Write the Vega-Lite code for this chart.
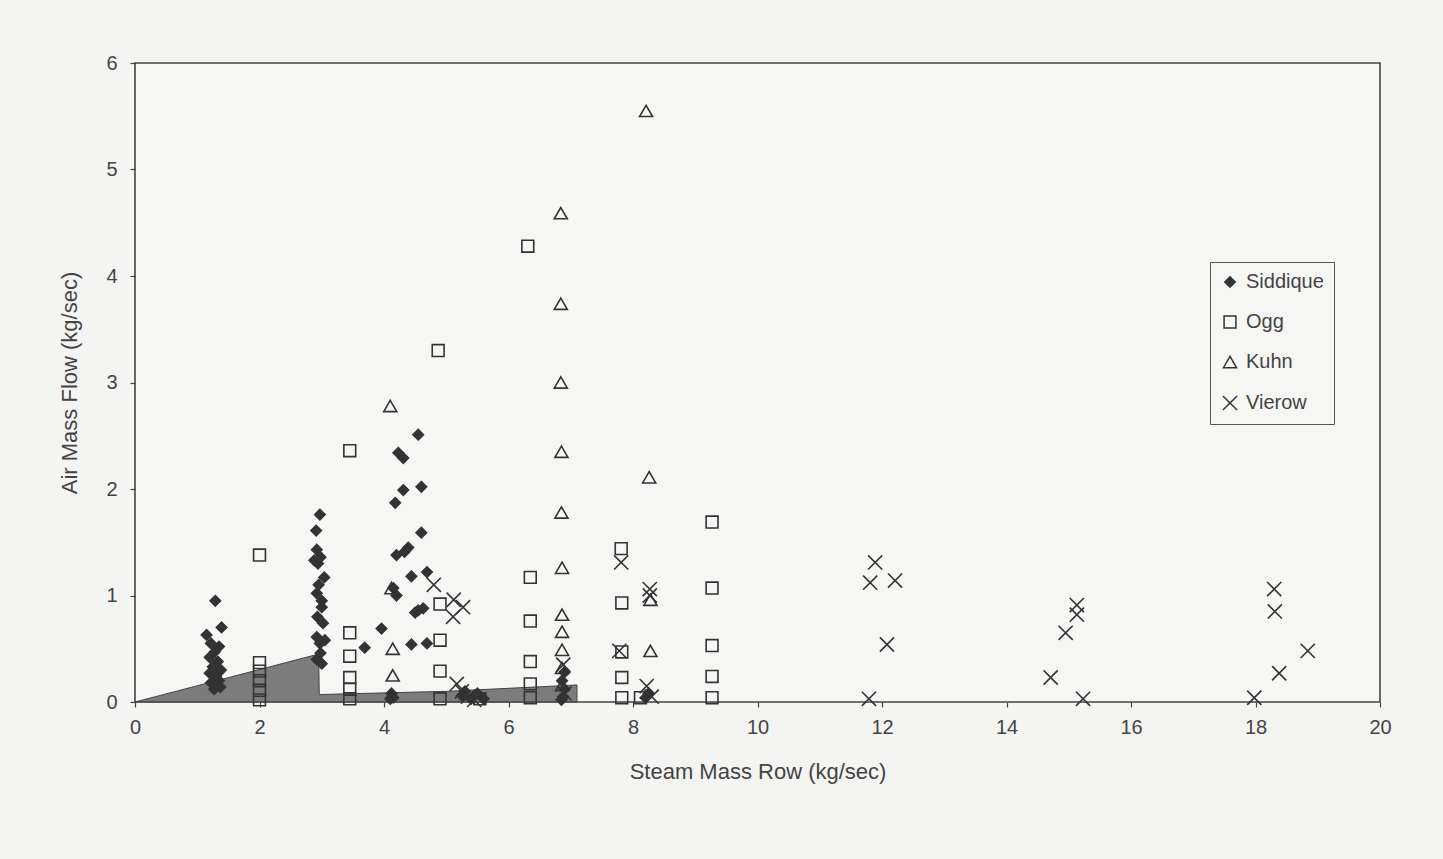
{
  "$schema": "https://vega.github.io/schema/vega-lite/v6.json",
  "width": 1245,
  "height": 639,
  "autosize": "none",
  "padding": {"left": 135, "top": 63, "right": 63, "bottom": 157},
  "background": "#f4f4f2",
  "config": {
    "view": {"stroke": "#444444", "strokeWidth": 1.6, "fill": "#f6f6f4"},
    "font": "Liberation Sans",
    "axis": {
      "grid": false,
      "domain": false,
      "tickColor": "#444444",
      "tickSize": 5,
      "tickWidth": 1.2,
      "labelFlush": false,
      "format": "d",
      "labelFont": "Liberation Sans",
      "labelFontSize": 20,
      "labelColor": "#444444",
      "titleFont": "Liberation Sans",
      "titleFontSize": 22,
      "titleFontWeight": "normal",
      "titleColor": "#444444"
    },
    "legend": {
      "labelFont": "Liberation Sans",
      "labelFontSize": 20,
      "labelColor": "#444444"
    }
  },
  "datasets": {
    "shade": [
      {"steam": 0, "air": 0},
      {"steam": 2.95, "air": 0.45},
      {"steam": 2.96, "air": 0.07},
      {"steam": 5.0, "air": 0.1},
      {"steam": 7.1, "air": 0.16}
    ],
    "pts": [
      {"series": "Siddique", "steam": 1.29, "air": 0.95},
      {"series": "Siddique", "steam": 1.15, "air": 0.63},
      {"series": "Siddique", "steam": 1.39, "air": 0.70},
      {"series": "Siddique", "steam": 1.22, "air": 0.55},
      {"series": "Siddique", "steam": 1.35, "air": 0.52},
      {"series": "Siddique", "steam": 1.28, "air": 0.47},
      {"series": "Siddique", "steam": 1.20, "air": 0.42},
      {"series": "Siddique", "steam": 1.33, "air": 0.38},
      {"series": "Siddique", "steam": 1.25, "air": 0.33},
      {"series": "Siddique", "steam": 1.38, "air": 0.30},
      {"series": "Siddique", "steam": 1.20, "air": 0.27},
      {"series": "Siddique", "steam": 1.30, "air": 0.24},
      {"series": "Siddique", "steam": 1.35, "air": 0.20},
      {"series": "Siddique", "steam": 1.22, "air": 0.18},
      {"series": "Siddique", "steam": 1.30, "air": 0.15},
      {"series": "Siddique", "steam": 1.27, "air": 0.12},
      {"series": "Siddique", "steam": 1.37, "air": 0.14},
      {"series": "Siddique", "steam": 2.97, "air": 1.76},
      {"series": "Siddique", "steam": 2.91, "air": 1.61},
      {"series": "Siddique", "steam": 2.92, "air": 1.43},
      {"series": "Siddique", "steam": 2.88, "air": 1.33},
      {"series": "Siddique", "steam": 2.98, "air": 1.36},
      {"series": "Siddique", "steam": 2.94, "air": 1.30},
      {"series": "Siddique", "steam": 3.04, "air": 1.17},
      {"series": "Siddique", "steam": 2.95, "air": 1.10},
      {"series": "Siddique", "steam": 2.92, "air": 1.02},
      {"series": "Siddique", "steam": 3.00, "air": 0.95},
      {"series": "Siddique", "steam": 3.00, "air": 0.89},
      {"series": "Siddique", "steam": 2.93, "air": 0.80},
      {"series": "Siddique", "steam": 3.02, "air": 0.74},
      {"series": "Siddique", "steam": 2.92, "air": 0.61},
      {"series": "Siddique", "steam": 3.05, "air": 0.58},
      {"series": "Siddique", "steam": 2.97, "air": 0.55},
      {"series": "Siddique", "steam": 2.98, "air": 0.46},
      {"series": "Siddique", "steam": 2.92, "air": 0.40},
      {"series": "Siddique", "steam": 3.00, "air": 0.36},
      {"series": "Siddique", "steam": 4.55, "air": 2.51},
      {"series": "Siddique", "steam": 4.23, "air": 2.34},
      {"series": "Siddique", "steam": 4.31, "air": 2.29},
      {"series": "Siddique", "steam": 4.31, "air": 1.99},
      {"series": "Siddique", "steam": 4.60, "air": 2.02},
      {"series": "Siddique", "steam": 4.18, "air": 1.87},
      {"series": "Siddique", "steam": 4.60, "air": 1.59},
      {"series": "Siddique", "steam": 4.20, "air": 1.38},
      {"series": "Siddique", "steam": 4.39, "air": 1.45},
      {"series": "Siddique", "steam": 4.33, "air": 1.41},
      {"series": "Siddique", "steam": 4.44, "air": 1.18},
      {"series": "Siddique", "steam": 4.69, "air": 1.22},
      {"series": "Siddique", "steam": 4.15, "air": 1.07},
      {"series": "Siddique", "steam": 4.20, "air": 1.00},
      {"series": "Siddique", "steam": 4.55, "air": 0.86},
      {"series": "Siddique", "steam": 4.63, "air": 0.88},
      {"series": "Siddique", "steam": 4.50, "air": 0.84},
      {"series": "Siddique", "steam": 3.96, "air": 0.69},
      {"series": "Siddique", "steam": 3.69, "air": 0.51},
      {"series": "Siddique", "steam": 4.44, "air": 0.54},
      {"series": "Siddique", "steam": 4.69, "air": 0.55},
      {"series": "Siddique", "steam": 4.12, "air": 0.08},
      {"series": "Siddique", "steam": 4.10, "air": 0.03},
      {"series": "Siddique", "steam": 4.15, "air": 0.04},
      {"series": "Siddique", "steam": 5.25, "air": 0.06},
      {"series": "Siddique", "steam": 5.40, "air": 0.03},
      {"series": "Siddique", "steam": 5.50, "air": 0.08},
      {"series": "Siddique", "steam": 5.30, "air": 0.10},
      {"series": "Siddique", "steam": 5.60, "air": 0.03},
      {"series": "Siddique", "steam": 6.88, "air": 0.05},
      {"series": "Siddique", "steam": 6.90, "air": 0.12},
      {"series": "Siddique", "steam": 6.86, "air": 0.20},
      {"series": "Siddique", "steam": 6.90, "air": 0.28},
      {"series": "Siddique", "steam": 6.85, "air": 0.02},
      {"series": "Siddique", "steam": 8.20, "air": 0.04},
      {"series": "Siddique", "steam": 8.25, "air": 0.08},
      {"series": "Ogg", "steam": 2.0, "air": 1.38},
      {"series": "Ogg", "steam": 2.0, "air": 0.37},
      {"series": "Ogg", "steam": 2.0, "air": 0.29},
      {"series": "Ogg", "steam": 2.0, "air": 0.20},
      {"series": "Ogg", "steam": 2.0, "air": 0.11},
      {"series": "Ogg", "steam": 2.0, "air": 0.02},
      {"series": "Ogg", "steam": 3.45, "air": 2.36},
      {"series": "Ogg", "steam": 3.45, "air": 0.65},
      {"series": "Ogg", "steam": 3.45, "air": 0.43},
      {"series": "Ogg", "steam": 3.45, "air": 0.23},
      {"series": "Ogg", "steam": 3.45, "air": 0.12},
      {"series": "Ogg", "steam": 3.45, "air": 0.03},
      {"series": "Ogg", "steam": 4.87, "air": 3.30},
      {"series": "Ogg", "steam": 4.90, "air": 0.92},
      {"series": "Ogg", "steam": 4.90, "air": 0.58},
      {"series": "Ogg", "steam": 4.90, "air": 0.29},
      {"series": "Ogg", "steam": 4.90, "air": 0.03},
      {"series": "Ogg", "steam": 5.54, "air": 0.03},
      {"series": "Ogg", "steam": 6.31, "air": 4.28},
      {"series": "Ogg", "steam": 6.35, "air": 1.17},
      {"series": "Ogg", "steam": 6.35, "air": 0.76},
      {"series": "Ogg", "steam": 6.35, "air": 0.38},
      {"series": "Ogg", "steam": 6.35, "air": 0.17},
      {"series": "Ogg", "steam": 6.35, "air": 0.04},
      {"series": "Ogg", "steam": 7.81, "air": 1.44},
      {"series": "Ogg", "steam": 7.82, "air": 0.93},
      {"series": "Ogg", "steam": 7.82, "air": 0.47},
      {"series": "Ogg", "steam": 7.82, "air": 0.23},
      {"series": "Ogg", "steam": 7.82, "air": 0.04},
      {"series": "Ogg", "steam": 8.12, "air": 0.04},
      {"series": "Ogg", "steam": 9.27, "air": 1.69},
      {"series": "Ogg", "steam": 9.27, "air": 1.07},
      {"series": "Ogg", "steam": 9.27, "air": 0.53},
      {"series": "Ogg", "steam": 9.27, "air": 0.24},
      {"series": "Ogg", "steam": 9.27, "air": 0.04},
      {"series": "Kuhn", "steam": 8.21, "air": 5.55},
      {"series": "Kuhn", "steam": 6.84, "air": 4.59},
      {"series": "Kuhn", "steam": 6.84, "air": 3.74},
      {"series": "Kuhn", "steam": 6.84, "air": 3.00},
      {"series": "Kuhn", "steam": 6.85, "air": 2.35},
      {"series": "Kuhn", "steam": 6.85, "air": 1.78},
      {"series": "Kuhn", "steam": 6.86, "air": 1.26},
      {"series": "Kuhn", "steam": 6.86, "air": 0.82},
      {"series": "Kuhn", "steam": 6.86, "air": 0.66},
      {"series": "Kuhn", "steam": 6.86, "air": 0.49},
      {"series": "Kuhn", "steam": 6.86, "air": 0.32},
      {"series": "Kuhn", "steam": 6.86, "air": 0.16},
      {"series": "Kuhn", "steam": 4.10, "air": 2.78},
      {"series": "Kuhn", "steam": 4.12, "air": 1.07},
      {"series": "Kuhn", "steam": 4.14, "air": 0.50},
      {"series": "Kuhn", "steam": 4.14, "air": 0.25},
      {"series": "Kuhn", "steam": 8.26, "air": 2.11},
      {"series": "Kuhn", "steam": 8.28, "air": 0.96},
      {"series": "Kuhn", "steam": 8.28, "air": 0.48},
      {"series": "Vierow", "steam": 4.80, "air": 1.10},
      {"series": "Vierow", "steam": 5.12, "air": 0.96},
      {"series": "Vierow", "steam": 5.27, "air": 0.89},
      {"series": "Vierow", "steam": 5.11, "air": 0.80},
      {"series": "Vierow", "steam": 5.17, "air": 0.17},
      {"series": "Vierow", "steam": 5.25, "air": 0.10},
      {"series": "Vierow", "steam": 5.35, "air": 0.05},
      {"series": "Vierow", "steam": 5.45, "air": 0.02},
      {"series": "Vierow", "steam": 6.88, "air": 0.35},
      {"series": "Vierow", "steam": 6.90, "air": 0.08},
      {"series": "Vierow", "steam": 7.81, "air": 1.31},
      {"series": "Vierow", "steam": 7.78, "air": 0.48},
      {"series": "Vierow", "steam": 8.27, "air": 1.06},
      {"series": "Vierow", "steam": 8.27, "air": 1.00},
      {"series": "Vierow", "steam": 8.22, "air": 0.15},
      {"series": "Vierow", "steam": 8.30, "air": 0.05},
      {"series": "Vierow", "steam": 11.89, "air": 1.31},
      {"series": "Vierow", "steam": 11.81, "air": 1.12},
      {"series": "Vierow", "steam": 12.21, "air": 1.14},
      {"series": "Vierow", "steam": 12.08, "air": 0.54},
      {"series": "Vierow", "steam": 11.79, "air": 0.03},
      {"series": "Vierow", "steam": 14.71, "air": 0.23},
      {"series": "Vierow", "steam": 14.95, "air": 0.65},
      {"series": "Vierow", "steam": 15.13, "air": 0.91},
      {"series": "Vierow", "steam": 15.13, "air": 0.82},
      {"series": "Vierow", "steam": 15.23, "air": 0.03},
      {"series": "Vierow", "steam": 18.30, "air": 1.06},
      {"series": "Vierow", "steam": 18.31, "air": 0.85},
      {"series": "Vierow", "steam": 18.84, "air": 0.48},
      {"series": "Vierow", "steam": 18.38, "air": 0.27},
      {"series": "Vierow", "steam": 17.98, "air": 0.04}
    ]
  },
  "layer": [
    {
      "data": {"name": "shade"},
      "mark": {"type": "area", "fill": "#5e5e5e", "fillOpacity": 0.8, "stroke": "#444444", "strokeWidth": 1},
      "encoding": {
        "x": {"field": "steam", "type": "quantitative", "scale": {"domain": [0, 20], "nice": false},
              "axis": {"title": "Steam Mass Row (kg/sec)", "values": [0, 2, 4, 6, 8, 10, 12, 14, 16, 18, 20], "labelPadding": 10, "titlePadding": 24}},
        "y": {"field": "air", "type": "quantitative", "scale": {"domain": [0, 6], "nice": false},
              "axis": {"title": "Air Mass Flow (kg/sec)", "values": [0, 1, 2, 3, 4, 5, 6], "labelPadding": 13, "titlePadding": 24}}
      }
    },
    {
      "data": {"name": "pts"},
      "mark": {"type": "point", "strokeWidth": 1.6, "stroke": "#333333", "opacity": 1},
      "encoding": {
        "x": {"field": "steam", "type": "quantitative"},
        "y": {"field": "air", "type": "quantitative"},
        "shape": {"field": "series", "type": "nominal",
                  "scale": {"domain": ["Siddique", "Ogg", "Kuhn", "Vierow"],
                            "range": ["diamond", "square", "triangle-up", "M-1,-1L1,1M1,-1L-1,1"]},
                  "legend": {"title": null, "orient": "none", "legendX": 1075, "legendY": 199,
                             "padding": 10, "strokeColor": "#555555", "rowPadding": 20, "labelOffset": 6}},
        "fill": {"field": "series", "type": "nominal",
                 "scale": {"domain": ["Siddique", "Ogg", "Kuhn", "Vierow"],
                           "range": ["#333333", "transparent", "transparent", "transparent"]}},
        "size": {"field": "series", "type": "nominal",
                 "scale": {"domain": ["Siddique", "Ogg", "Kuhn", "Vierow"],
                           "range": [110, 200, 115, 90]}}
      }
    }
  ]
}
